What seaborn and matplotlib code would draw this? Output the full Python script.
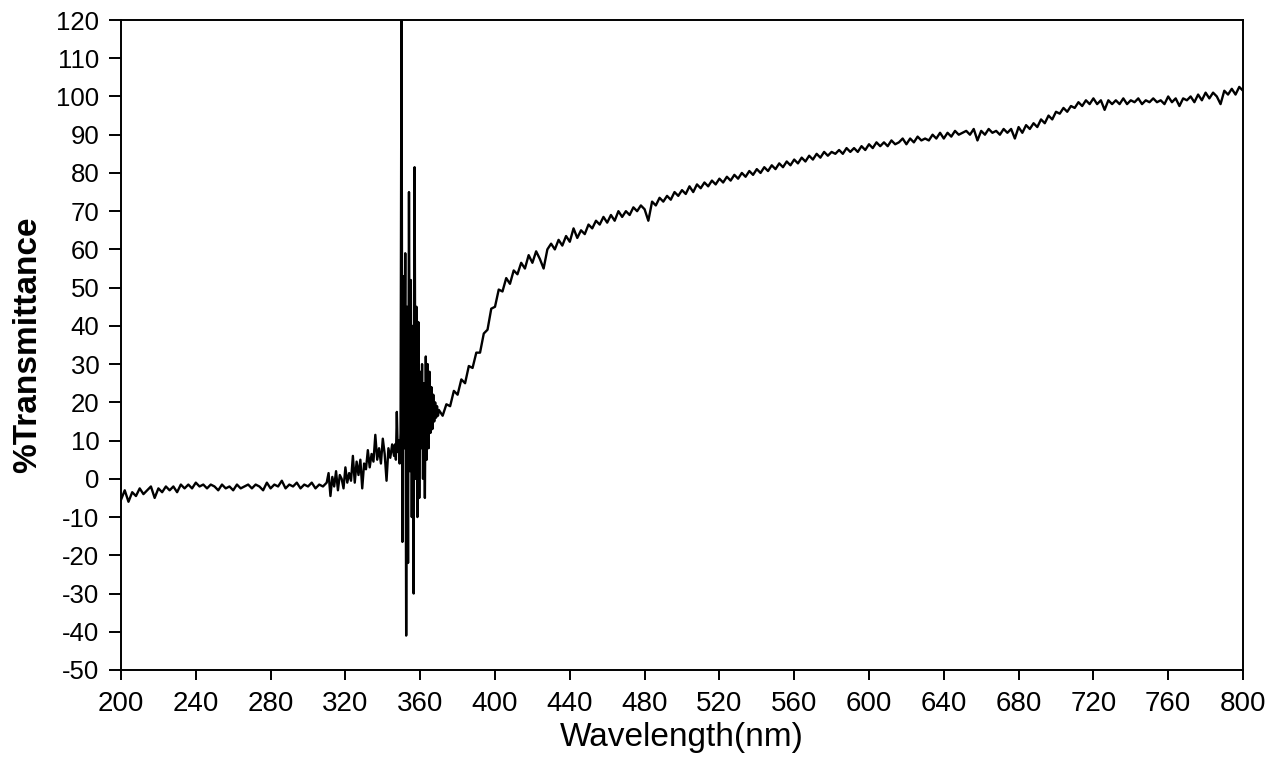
import numpy as np
import pandas as pd
import seaborn as sns
import matplotlib
matplotlib.use("Agg")
import matplotlib.pyplot as plt

# wavelength grid (nm) of the three read-off segments
wl_flat = np.arange(200, 310, 2)        # 200..308
wl_rise = np.arange(310, 347, 1)        # 310..346
wl_noisy = np.arange(346.5, 370.5, 0.5)  # 346.5..370
wl_tail = np.arange(372, 802, 2)        # 372..800

t_flat = [-5.5, -3.0, -6.0, -3.5, -4.5, -2.5, -4.0, -3.0, -2.0, -5.0,
          -2.5, -3.5, -2.0, -3.0, -2.0, -3.5, -1.5, -2.5, -1.5, -2.5,
          -1.0, -2.0, -1.5, -2.5, -1.5, -2.0, -3.0, -1.5, -2.5, -2.0,
          -3.0, -1.5, -2.5, -2.0, -1.5, -2.5, -1.5, -2.0, -3.0, -1.0,
          -2.5, -1.5, -2.0, -0.5, -2.5, -1.5, -2.0, -1.0, -2.5, -1.5,
          -2.0, -1.0, -2.5, -1.5, -2.0]

t_rise = [-1.0, 1.5, -4.5, 0.5, -2.0, 2.0, -3.0, 1.0, 0.0, -2.5,
          3.0, -1.0, 1.5, -0.5, 6.0, -1.0, 4.5, 1.0, 5.0, -2.5,
          4.0, 2.5, 7.5, 3.0, 6.5, 4.5, 11.5, 5.0, 8.0, 4.0,
          10.5, 6.5, -0.5, 8.0, 5.5, 9.0, 6.0]

t_noisy = [9.0, 5.0, 17.5, 7.0, 10.0, 4.0, 12.0, 125.0,
           -16.5, 53.0, 8.0, 59.0, -41.0, 45.0, -22.0, 75.0,
           2.0, 52.0, -10.0, 40.0, -30.0, 81.5, 0.0, 45.0,
           -10.0, 41.0, -5.0, 28.0, 8.0, 30.0, 0.0, 25.0,
           -5.0, 32.0, 5.0, 30.0, 8.0, 28.0, 12.0, 24.0,
           13.0, 22.0, 15.0, 20.0, 16.0, 19.0, 16.5, 18.0]

t_tail = [16.5, 19.5, 19.0, 23.0, 22.0, 26.0, 25.0, 29.5, 29.0, 33.0,
          33.0, 38.0, 39.0, 44.5, 45.0, 49.5, 49.0, 52.5, 51.0, 54.5,
          53.5, 56.5, 55.0, 58.5, 56.5, 59.5, 57.5, 55.0, 60.0, 61.5,
          60.0, 62.5, 61.0, 63.5, 62.0, 65.5, 63.0, 65.0, 64.0, 66.5,
          65.5, 67.5, 66.5, 68.5, 67.0, 69.0, 67.5, 70.0, 68.5, 70.0,
          69.0, 71.0, 70.0, 71.5, 70.5, 67.5, 72.5, 71.5, 73.5, 72.5,
          74.0, 73.0, 75.0, 74.0, 75.5, 74.5, 76.5, 75.0, 77.0, 76.0,
          77.5, 76.5, 78.0, 77.0, 78.5, 77.5, 79.0, 78.0, 79.5, 78.5,
          80.0, 79.0, 80.5, 79.5, 81.0, 80.0, 81.5, 80.5, 82.0, 81.0,
          82.5, 81.5, 83.0, 82.0, 83.5, 82.5, 84.0, 83.0, 84.5, 83.5,
          85.0, 84.0, 85.5, 84.5, 85.5, 85.0, 86.0, 85.0, 86.5, 85.5,
          86.5, 85.5, 87.0, 86.0, 87.5, 86.5, 88.0, 87.0, 88.0, 87.0,
          88.5, 87.5, 88.0, 89.0, 87.5, 89.0, 88.0, 89.5, 88.5, 89.0,
          88.5, 90.0, 89.0, 90.5, 89.0, 90.5, 89.5, 91.0, 90.0, 90.5,
          91.0, 90.0, 91.5, 88.5, 91.0, 90.0, 91.5, 90.5, 91.0, 90.0,
          91.5, 90.5, 91.5, 89.0, 92.0, 90.5, 92.5, 91.5, 93.0, 92.0,
          94.0, 93.0, 95.0, 94.0, 96.0, 95.5, 97.0, 96.0, 97.5, 97.0,
          98.5, 97.5, 99.0, 98.0, 99.5, 98.0, 99.0, 96.5, 99.0, 98.0,
          99.0, 98.0, 99.5, 98.0, 99.0, 98.5, 99.5, 98.0, 99.0, 98.5,
          99.5, 98.5, 99.0, 98.0, 100.0, 98.5, 99.5, 97.5, 99.5, 99.0,
          100.0, 98.5, 100.5, 99.0, 101.0, 99.5, 101.0, 100.0, 98.0, 101.5,
          100.5, 102.0, 100.5, 102.5, 101.5]

x_ticks = list(range(200, 801, 40))
y_ticks = list(range(-50, 121, 10))

df = pd.DataFrame({
    "wl": np.concatenate([wl_flat, wl_rise, wl_noisy, wl_tail]),
    "T": np.concatenate([t_flat, t_rise, t_noisy, t_tail]),
})

sns.set_style("ticks")
plt.rcParams["font.family"] = ["Liberation Sans", "DejaVu Sans"]
plt.rcParams["axes.unicode_minus"] = False
plt.rcParams["text.color"] = "black"
plt.rcParams["axes.labelcolor"] = "black"
plt.rcParams["xtick.color"] = "black"
plt.rcParams["ytick.color"] = "black"

fig = plt.figure(figsize=(12.84, 7.6), dpi=100)
ax = fig.add_axes([121 / 1284, 1 - 670 / 760, 1122 / 1284, 650 / 760])

sns.lineplot(data=df, x="wl", y="T", color="black", linewidth=1.7,
             estimator=None, ax=ax)

ax.set_xlim(200, 800)
ax.set_ylim(-50, 120)
ax.set_xticks(x_ticks)
ax.set_yticks(y_ticks)
ax.tick_params(axis="x", labelsize=20, length=7, width=1.4, pad=8,
               direction="out", top=False, colors="black")
ax.tick_params(axis="y", labelsize=18.5, length=8.5, width=1.4, pad=7,
               direction="out", right=False, colors="black")
for s in ax.spines.values():
    s.set_visible(True)
    s.set_linewidth(1.4)
    s.set_color("black")

ax.set_xlabel("Wavelength(nm)", fontsize=24, color="black")
ax.set_ylabel("%Transmittance", fontsize=24, fontweight="bold", color="black")
ax.xaxis.set_label_coords(0.5, -0.08)
ax.yaxis.set_label_coords(-0.069, 0.5)

fig.savefig("out.png", dpi=100)
